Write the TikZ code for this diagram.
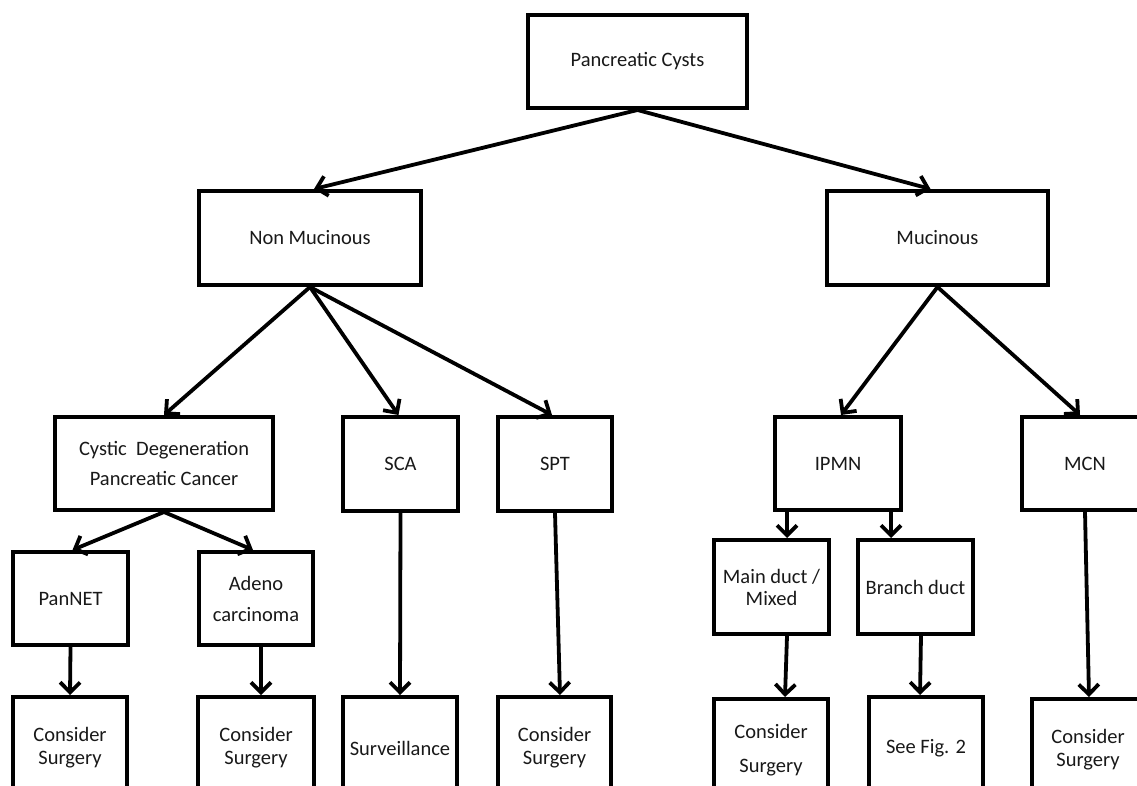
\documentclass[tikz,border=0pt]{standalone}
\usepackage{fontspec}
\setmainfont{Carlito}
\usetikzlibrary{arrows.meta}
\begin{document}
\begin{tikzpicture}[x=1pt,y=-1pt,
  box/.style={draw=black, line width=4pt, fill=white, inner sep=0pt, align=center,
    font=\fontsize{20.5}{30}\selectfont, text=black!90},
  arr/.style={line width=3.8pt, -{Straight Barb[length=10pt,width=20pt]}}]
\useasboundingbox (0,0) rectangle (1137,785);
\fill[white] (0,0) rectangle (1137,785);
\clip (0,0) rectangle (1137,785);
% level 1
\node[box, minimum width=219pt, minimum height=93pt] (pc) at (637.5,61.5) {Pancreatic Cysts};
% level 2
\node[box, minimum width=222pt, minimum height=94pt] (nm) at (310,238) {Non Mucinous};
\node[box, minimum width=221pt, minimum height=94pt] (mu) at (937.5,238) {Mucinous};
% level 3
\node[box, minimum width=218pt, minimum height=93pt] (cd) at (164,463.5) {Cystic\ \ Degeneration\\Pancreatic Cancer};
\node[box, minimum width=115pt, minimum height=94pt] (sca) at (400.5,464) {SCA};
\node[box, minimum width=114pt, minimum height=94pt] (spt) at (555,464) {SPT};
\node[box, minimum width=126pt, minimum height=93pt] (ipmn) at (838,463.5) {IPMN};
\node[box, minimum width=126pt, minimum height=93pt] (mcn) at (1085,463.5) {MCN};
% level 4
\node[box, minimum width=115pt, minimum height=93pt] (pannet) at (70.5,598.5) {PanNET};
\node[box, minimum width=114pt, minimum height=93pt, font=\fontsize{20.5}{31}\selectfont] (adeno) at (256,598.5) {Adeno\\carcinoma};
\node[box, minimum width=115pt, minimum height=94pt, font=\fontsize{20.5}{22}\selectfont] (main) at (771.5,587) {Main duct /\\Mixed};
\node[box, minimum width=115pt, minimum height=94pt] (branch) at (915.5,587) {Branch duct};
% level 5
\node[box, minimum width=114pt, minimum height=102pt, font=\fontsize{20.5}{23}\selectfont] (cs1) at (70,748) {Consider\\Surgery};
\node[box, minimum width=116pt, minimum height=102pt, font=\fontsize{20.5}{23}\selectfont] (cs2) at (256,748) {Consider\\Surgery};
\node[box, minimum width=114pt, minimum height=102pt] (surv) at (400,748) {Surveillance};
\node[box, minimum width=113pt, minimum height=102pt, font=\fontsize{20.5}{23}\selectfont] (cs3) at (554.5,748) {Consider\\Surgery};
\node[box, minimum width=114pt, minimum height=102pt, font=\fontsize{20.5}{34}\selectfont] (cs4) at (771,750) {Consider\\Surgery};
\node[box, minimum width=114pt, minimum height=102pt] (fig2) at (926,748) {See Fig. 2};
\node[box, minimum width=112pt, minimum height=102pt, font=\fontsize{20.5}{23}\selectfont] (cs5) at (1088,750) {Consider\\Surgery};
% connectors
\draw[arr] (pc.south) -- ([xshift=4pt]nm.north);
\draw[arr] (pc.south) -- ([xshift=-7pt]mu.north);
\draw[arr] (nm.south) -- (cd.north);
\draw[arr] (nm.south) -- ([xshift=-2pt]sca.north);
\draw[arr] (nm.south) -- ([xshift=-3pt]spt.north);
\draw[arr] (mu.south) -- ([xshift=3pt]ipmn.north);
\draw[arr] (mu.south) -- ([xshift=-5pt]mcn.north);
\draw[arr] (cd.south) -- ([xshift=2pt]pannet.north);
\draw[arr] (cd.south) -- ([xshift=-3pt]adeno.north);
\draw[arr] (pannet.south) -- (cs1.north);
\draw[arr] ([xshift=5pt]adeno.south) -- ([xshift=5pt]cs2.north);
\draw[arr] (sca.south) -- (surv.north);
\draw[arr] (spt.south) -- ([xshift=5.5pt]cs3.north);
\draw[arr] ([xshift=-51pt]ipmn.south) -- ([xshift=15.5pt]main.north);
\draw[arr] ([xshift=53pt]ipmn.south) -- ([xshift=-24.5pt]branch.north);
\draw[arr] ([xshift=15.5pt]main.south) -- ([xshift=14pt]cs4.north);
\draw[arr] ([xshift=5.5pt]branch.south) -- ([xshift=-6pt]fig2.north);
\draw[arr] (mcn.south) -- ([xshift=1pt]cs5.north);
\end{tikzpicture}
\end{document}
